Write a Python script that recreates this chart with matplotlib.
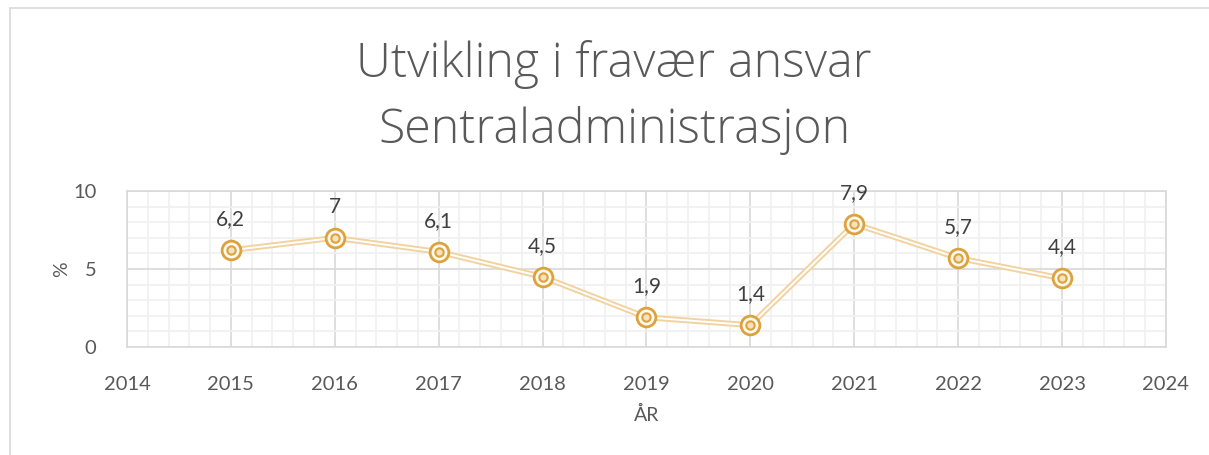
import matplotlib
matplotlib.use("Agg")
import matplotlib.pyplot as plt
from matplotlib.ticker import MultipleLocator
from matplotlib.patches import Rectangle

years = [2015, 2016, 2017, 2018, 2019, 2020, 2021, 2022, 2023]
values = [6.2, 7.0, 6.1, 4.5, 1.9, 1.4, 7.9, 5.7, 4.4]
labels = ["6,2", "7", "6,1", "4,5", "1,9", "1,4", "7,9", "5,7", "4,4"]
title_lines = ["Utvikling i fravær ansvar", "Sentraladministrasjon"]

plt.rcParams['font.family'] = ['Lato', 'DejaVu Sans']

fig = plt.figure(figsize=(12.09, 4.55), dpi=100)
ax = fig.add_axes([0.105, 0.2374, 0.8594, 0.3428])

fig.patches.append(Rectangle((10/1209, -0.1), 1.2, (455-8)/455 + 0.1,
                             transform=fig.transFigure, fill=False,
                             edgecolor='#D9D9D9', linewidth=1.2))

line_col = '#F2D3A0'
mk_col = '#DDA23E'
ax.plot(years, values, color=line_col, linewidth=4.2, zorder=3, solid_capstyle='butt')
ax.plot(years, values, color='white', linewidth=1.4, zorder=4, solid_capstyle='butt')
ax.plot(years, values, linestyle='none', marker='o', markersize=13.5,
        markerfacecolor='#FFF9EE', markeredgecolor=mk_col, markeredgewidth=2.0, zorder=5)
ax.plot(years, values, linestyle='none', marker='o', markersize=6,
        markerfacecolor='#F6E2BC', markeredgecolor=mk_col, markeredgewidth=1.5, zorder=6)

for x, y, t in zip(years, values, labels):
    ax.annotate(t, (x, y), xytext=(0, 15), textcoords='offset points',
                ha='center', va='bottom', fontsize=15, color='#404040', zorder=7)

ax.set_xlim(2014, 2024)
ax.set_ylim(0, 10)
ax.xaxis.set_major_locator(MultipleLocator(1))
ax.xaxis.set_minor_locator(MultipleLocator(0.2))
ax.yaxis.set_major_locator(MultipleLocator(5))
ax.yaxis.set_minor_locator(MultipleLocator(1))
ax.grid(which='major', color='#D9D9D9', linewidth=1.2, zorder=1)
ax.grid(which='minor', color='#F0F0F0', linewidth=1.2, zorder=0)
ax.set_axisbelow(True)
for s in ax.spines.values():
    s.set_color('#D9D9D9')
    s.set_linewidth(1.2)
ax.tick_params(which='both', length=0)
ax.tick_params(axis='x', pad=21, labelsize=14.5, labelcolor='#595959')
ax.tick_params(axis='y', pad=22, labelsize=14.5, labelcolor='#595959')

ax.set_xlabel("ÅR", fontsize=14, color='#595959', labelpad=9)
ax.set_ylabel("%", fontsize=14, color='#595959', labelpad=2)

title_font = ['Open Sans', 'Lato', 'DejaVu Sans']
fig.text(0.508, 1 - 77/455, title_lines[0], ha='center', va='baseline', fontsize=34.8,
         color='#595959', fontweight='light', family=title_font)
fig.text(0.508, 1 - 143/455, title_lines[1], ha='center', va='baseline', fontsize=34.8,
         color='#595959', fontweight='light', family=title_font)

fig.savefig("out.png", dpi=100)
